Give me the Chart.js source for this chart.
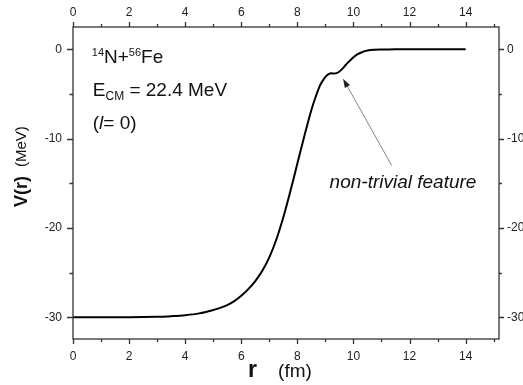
<!DOCTYPE html>
<html>
<head>
<meta charset="utf-8">
<script src="https://cdn.jsdelivr.net/npm/chart.js@4.4.1/dist/chart.umd.min.js"></script>
<style>
  html, body { margin: 0; padding: 0; background: #fff; }
  #wrap { width: 523px; height: 385px; }
</style>
</head>
<body>
<div id="wrap"><canvas id="potentialChart" width="523" height="385"></canvas></div>
<script>
// r (fm) and V(r) (MeV)
const radius = [0, 1, 2, 3, 3.5, 4, 4.5, 5, 5.25, 5.5, 5.75, 6, 6.25, 6.5, 6.75, 7, 7.25, 7.5, 7.75, 8, 8.25, 8.5, 8.65,
  8.8, 8.9, 9, 9.1, 9.2, 9.3, 9.4, 9.5, 9.6, 9.7, 9.8, 9.9, 10, 10.15, 10.3, 10.5, 10.75, 11, 11.5, 12, 13, 14];
const potential = [-30, -30, -30, -29.95, -29.88, -29.77, -29.57, -29.2, -28.95, -28.65, -28.2, -27.6, -26.85, -25.95, -24.8, -23.3, -21.3, -18.8, -15.9, -12.8, -9.7, -6.8, -5.35,
  -4.1, -3.55, -3.1, -2.82, -2.7, -2.72, -2.68, -2.5, -2.2, -1.85, -1.5, -1.2, -0.9, -0.55, -0.33, -0.15, -0.06, -0.03, -0.01, 0, 0, 0];

// tick labels
const xTickLabels = [0, 2, 4, 6, 8, 10, 12, 14];
const yTickLabels = [0, -10, -20, -30];

const FONT = "'Liberation Sans', Arial, sans-serif";
const axisColor = '#333';

// draws a run of text pieces (superscripts, subscripts, italics) one after another
function drawRuns(ctx, x, y, runs) {
  runs.forEach(r => {
    ctx.font = r.font;
    ctx.fillText(r.t, x, y + (r.dy || 0));
    x += ctx.measureText(r.t).width;
  });
}

const framePlugin = {
  id: 'frame',
  afterDraw(chart) {
    const ctx = chart.ctx;
    const { x, y } = chart.scales;
    const a = chart.chartArea;
    ctx.save();
    ctx.strokeStyle = axisColor;
    ctx.lineWidth = 1.3;
    ctx.strokeRect(a.left, a.top, a.right - a.left, a.bottom - a.top);

    ctx.beginPath();
    x.ticks.forEach(t => {
      const px = Math.round(x.getPixelForValue(t.value)) + 0.5;
      const len = xTickLabels.includes(t.value) ? 5 : 3;
      ctx.moveTo(px, a.bottom); ctx.lineTo(px, a.bottom + len);
      ctx.moveTo(px, a.top); ctx.lineTo(px, a.top - len);
    });
    y.ticks.forEach(t => {
      const py = Math.round(y.getPixelForValue(t.value)) + 0.5;
      const len = yTickLabels.includes(t.value) ? 6 : 3.5;
      ctx.moveTo(a.left, py); ctx.lineTo(a.left - len, py);
      ctx.moveTo(a.right, py); ctx.lineTo(a.right + 5 * len / 6, py);
    });
    ctx.stroke();

    // arrow pointing at the shoulder
    const tipX = x.getPixelForValue(9.63), tipY = y.getPixelForValue(-3.3);
    const tailX = x.getPixelForValue(11.36), tailY = y.getPixelForValue(-13.0);
    const ang = Math.atan2(tipY - tailY, tipX - tailX);
    ctx.strokeStyle = '#666';
    ctx.lineWidth = 0.8;
    ctx.beginPath();
    ctx.moveTo(tailX, tailY);
    ctx.lineTo(tipX - 6 * Math.cos(ang), tipY - 6 * Math.sin(ang));
    ctx.stroke();
    ctx.fillStyle = '#222';
    ctx.beginPath();
    ctx.moveTo(tipX, tipY);
    ctx.lineTo(tipX - 9 * Math.cos(ang) + 3 * Math.sin(ang), tipY - 9 * Math.sin(ang) - 3 * Math.cos(ang));
    ctx.lineTo(tipX - 9 * Math.cos(ang) - 3 * Math.sin(ang), tipY - 9 * Math.sin(ang) + 3 * Math.cos(ang));
    ctx.closePath();
    ctx.fill();

    // text annotations
    ctx.fillStyle = '#111';
    ctx.textBaseline = 'alphabetic';
    ctx.textAlign = 'left';
    ctx.font = 'italic 19px ' + FONT;
    ctx.fillText('non-trivial feature', x.getPixelForValue(9.15), y.getPixelForValue(-15.55));

    const lx = x.getPixelForValue(0.67);
    drawRuns(ctx, lx, y.getPixelForValue(-1.55), [
      { t: '14', font: '11px ' + FONT, dy: -7 },
      { t: 'N+', font: '19px ' + FONT },
      { t: '56', font: '11px ' + FONT, dy: -7 },
      { t: 'Fe', font: '19px ' + FONT }
    ]);
    drawRuns(ctx, lx + 1, y.getPixelForValue(-5.25), [
      { t: 'E', font: '19px ' + FONT },
      { t: 'CM', font: '12px ' + FONT, dy: 4 },
      { t: ' = 22.4 MeV', font: '19px ' + FONT }
    ]);
    drawRuns(ctx, lx + 1, y.getPixelForValue(-8.95), [
      { t: '(', font: '19px ' + FONT },
      { t: 'l', font: 'italic 19px ' + FONT },
      { t: '= 0)', font: '19px ' + FONT }
    ]);

    // axis titles
    drawRuns(ctx, 248, 377, [
      { t: 'r', font: 'bold 23px ' + FONT },
      { t: '    ', font: '19px ' + FONT },
      { t: '(fm)', font: '19px ' + FONT }
    ]);
    ctx.translate(27, 207);
    ctx.rotate(-Math.PI / 2);
    ctx.font = 'bold 18px ' + FONT;
    ctx.fillText('V(r)', 0, 0);
    ctx.font = '15px ' + FONT;
    ctx.fillText('(MeV)', 40, -1.5);
    ctx.restore();
  }
};

const xRange = { min: 0, max: 15.19 };
const yRange = { min: -32.44, max: 2.49 };
const tickFont = { family: FONT, size: 12 };

function xAxis(position, padding, height) {
  return {
    type: 'linear', position, min: xRange.min, max: xRange.max,
    grid: { display: false, drawTicks: false },
    border: { display: false },
    afterFit: s => { s.height = height; },
    ticks: {
      stepSize: 1, includeBounds: false, autoSkip: false, maxRotation: 0,
      padding, color: '#222', font: tickFont,
      callback: v => xTickLabels.includes(v) ? String(v) : ''
    }
  };
}

function yAxis(position, padding, width) {
  return {
    type: 'linear', position, min: yRange.min, max: yRange.max,
    grid: { display: false, drawTicks: false },
    border: { display: false },
    afterFit: s => { s.width = width; },
    ticks: {
      stepSize: 5, includeBounds: false, autoSkip: false,
      padding, color: '#222', font: tickFont,
      callback: v => yTickLabels.includes(v) ? String(v) : ''
    }
  };
}

const ctx = document.getElementById('potentialChart').getContext('2d');
new Chart(ctx, {
  type: 'line',
  data: {
    datasets: [{
      label: 'V(r)',
      data: radius.map((r, i) => ({ x: r, y: potential[i] })),
      borderColor: '#000',
      borderWidth: 2,
      pointRadius: 0,
      fill: false,
      tension: 0.35
    }]
  },
  options: {
    responsive: false,
    animation: false,
    layout: { padding: 0 },
    scales: {
      x: xAxis('bottom', 10, 46),
      x2: xAxis('top', 7, 27),
      y: yAxis('left', 11, 73),
      y2: yAxis('right', 8, 24)
    },
    plugins: {
      legend: { display: false },
      tooltip: { enabled: false },
      title: { display: false }
    }
  },
  plugins: [framePlugin]
});
</script>
</body>
</html>
